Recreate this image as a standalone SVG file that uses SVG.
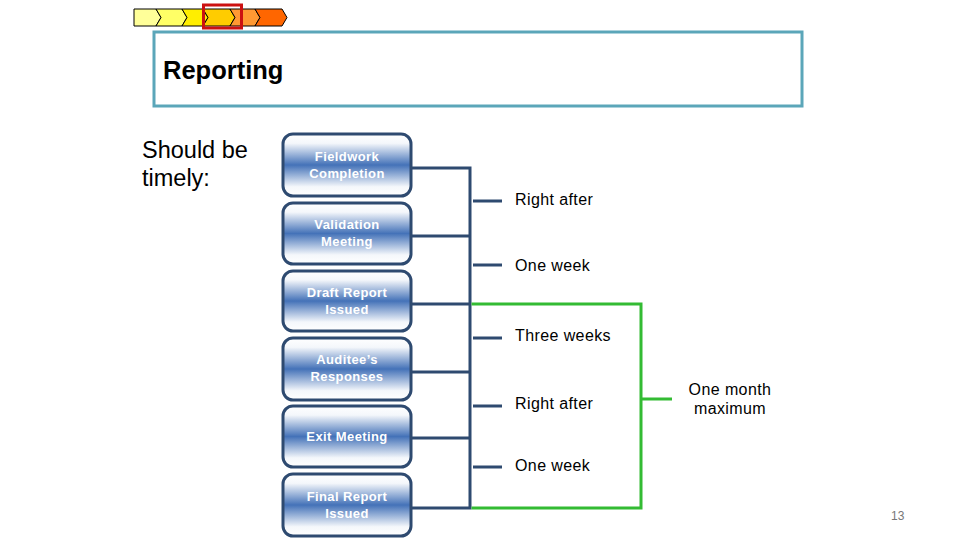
<svg xmlns="http://www.w3.org/2000/svg" width="960" height="540" viewBox="0 0 960 540">
<defs>
<linearGradient id="ng" x1="0" y1="0" x2="0" y2="1">
<stop offset="0" stop-color="#ffffff"/>
<stop offset="0.15" stop-color="#f4f7fb"/>
<stop offset="0.5" stop-color="#4472b8"/>
<stop offset="0.85" stop-color="#f4f7fb"/>
<stop offset="1" stop-color="#ffffff"/>
</linearGradient>
<style>
.node rect{fill:url(#ng);stroke:#2e4a70;stroke-width:3}
.node text{fill:#ffffff;font-family:"Liberation Sans",Arial,sans-serif;font-weight:bold;font-size:13px;text-anchor:middle;letter-spacing:0.4px}
.lbl{font-family:"Liberation Sans",Arial,sans-serif;font-size:16px;letter-spacing:0.4px;fill:#000}
.blue{stroke:#2e4a70;stroke-width:3;fill:none}
.green{stroke:#33bb33;stroke-width:3;fill:none}
.chev{stroke:#000;stroke-width:1}
</style>
</defs>
<rect width="960" height="540" fill="#fff"/>
<g id="progress">
<polygon class="chev" points="134,9 156,9 161,17.5 156,26 134,26" fill="#ffff99"/>
<polygon class="chev" points="156,9 182,9 187,17.5 182,26 156,26 161,17.5" fill="#ffff66"/>
<polygon class="chev" points="182,9 203,9 208,17.5 203,26 182,26 187,17.5" fill="#ffee00"/>
<polygon class="chev" points="203,9 230,9 235,17.5 230,26 203,26 208,17.5" fill="#ffcc00"/>
<polygon class="chev" points="230,9 255,9 260,17.5 255,26 230,26 235,17.5" fill="#ff9933"/>
<polygon class="chev" points="255,9 282,9 287,17.5 282,26 255,26 260,17.5" fill="#ff6600"/>
<rect x="203.5" y="5" width="38" height="23" fill="none" stroke="#cc1111" stroke-width="3"/>
</g>
<g id="title">
<rect x="154" y="32" width="648" height="74" fill="none" stroke="#5ba6b9" stroke-width="3"/>
<text x="163" y="79" font-family="Liberation Sans,Arial,sans-serif" font-weight="bold" font-size="25.5">Reporting</text>
</g>
<g id="intro">
<text x="142" y="158" font-family="Liberation Sans,Arial,sans-serif" font-size="23.5">Should be</text>
<text x="142" y="186" font-family="Liberation Sans,Arial,sans-serif" font-size="23.5">timely:</text>
</g>
<g id="connectors">
<path class="blue" d="M411,168 H470 M411,236 H470 M411,304 H470 M411,372 H470 M411,438 H470 M411,508 H470 M470,166.5 V509.5"/>
<path class="blue" d="M473,201 H502 M473,265 H502 M473,338 H502 M473,406 H502 M473,467 H502"/>
<path class="green" d="M471.5,304 H641 V508 H471.5 M641,399 H672"/>
</g>
<g id="labels">
<text class="lbl" x="515" y="205">Right after</text>
<text class="lbl" x="515" y="271">One week</text>
<text class="lbl" x="515" y="341">Three weeks</text>
<text class="lbl" x="515" y="409">Right after</text>
<text class="lbl" x="515" y="471">One week</text>
<text class="lbl" x="730" y="395" text-anchor="middle">One month</text>
<text class="lbl" x="730" y="414" text-anchor="middle">maximum</text>
</g>
<g id="n1" class="node"><rect x="283" y="134" width="128" height="62" rx="10"/><text x="347" y="161">Fieldwork</text><text x="347" y="178">Completion</text></g>
<g id="n2" class="node"><rect x="283" y="203" width="128" height="61" rx="10"/><text x="347" y="229">Validation</text><text x="347" y="246">Meeting</text></g>
<g id="n3" class="node"><rect x="283" y="271" width="128" height="60" rx="10"/><text x="347" y="297">Draft Report</text><text x="347" y="314">Issued</text></g>
<g id="n4" class="node"><rect x="283" y="338" width="128" height="62" rx="10"/><text x="347" y="364">Auditee’s</text><text x="347" y="381">Responses</text></g>
<g id="n5" class="node"><rect x="283" y="406" width="128" height="61" rx="10"/><text x="347" y="441">Exit Meeting</text></g>
<g id="n6" class="node"><rect x="283" y="474" width="128" height="62" rx="10"/><text x="347" y="501">Final Report</text><text x="347" y="518">Issued</text></g>
<text x="891" y="520" font-family="Liberation Sans,Arial,sans-serif" font-size="12" fill="#777">13</text>
</svg>
